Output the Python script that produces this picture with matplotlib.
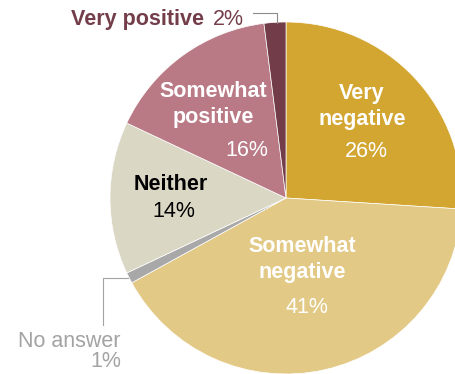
import matplotlib
matplotlib.use("Agg")
import matplotlib.pyplot as plt

# Survey responses, clockwise from 12 o'clock
categories = ["Very negative", "Somewhat negative", "No answer", "Neither",
              "Somewhat positive", "Very positive"]
shares = [26, 41, 1, 14, 16, 2]
colors = ["#D2A631", "#E2C985", "#A8A8A8", "#DBD7C5", "#B97A86", "#723D48"]

W, H = 455, 374
plt.rcParams["font.family"] = ["Liberation Sans", "DejaVu Sans"]

fig = plt.figure(figsize=(W / 100, H / 100), dpi=100)
ax = fig.add_axes([0, 0, 1, 1])
ax.set_xlim(0, W)
ax.set_ylim(0, H)
ax.set_aspect("equal")
ax.axis("off")


def iy(y):
    """Convert a top-down pixel row to axis units."""
    return H - y


cx, cy, r = 286, 198, 176
ax.pie(shares, colors=colors, startangle=90, counterclock=False,
       center=(cx, iy(cy)), radius=r, frame=True,
       wedgeprops=dict(edgecolor="white", linewidth=0.5))
ax.set_xlim(0, W)
ax.set_ylim(0, H)
ax.axis("off")

BOLD = 15.5
REG = 15.5
white = "white"

def label(x, y, s, color, weight="bold", ha="center", size=None):
    ax.text(x, iy(y), s, color=color, fontsize=size or (BOLD if weight == "bold" else REG),
            fontweight=weight, ha=ha, va="baseline")

# Very negative
label(362, 99, "Very", white)
label(362, 125, "negative", white)
label(366, 157, f"{shares[0]}%", white, weight="normal")

# Somewhat negative
label(302, 252, "Somewhat", white)
label(302, 278, "negative", white)
label(307, 313, f"{shares[1]}%", white, weight="normal")

# Neither
label(171, 190, "Neither", "black")
label(174, 217, f"{shares[3]}%", "black", weight="normal")

# Somewhat positive
label(213, 97, "Somewhat", white)
label(213, 123, "positive", white)
label(268, 156, f"{shares[4]}%", white, weight="normal", ha="right")

# Very positive (outside, with leader line)
vp_color = "#733E49"
ax.text(204, iy(25), "Very positive", color=vp_color, fontsize=BOLD,
        fontweight="bold", ha="right", va="baseline")
ax.text(213, iy(25), f"{shares[5]}%", color=vp_color, fontsize=REG,
        ha="left", va="baseline")
ax.plot([253, 277, 277], [iy(13), iy(13), iy(23)], color="#8A8A8A", lw=0.8)

# No answer (outside, with leader line)
na_color = "#A3A3A3"
ax.text(121, iy(347), "No answer", color=na_color, fontsize=REG,
        ha="right", va="baseline")
ax.text(121, iy(367), f"{shares[2]}%", color=na_color, fontsize=REG,
        ha="right", va="baseline")
ax.plot([103, 103, 128], [iy(325), iy(278), iy(278)], color="#A3A3A3", lw=0.8)

fig.savefig("out.png", dpi=100)
